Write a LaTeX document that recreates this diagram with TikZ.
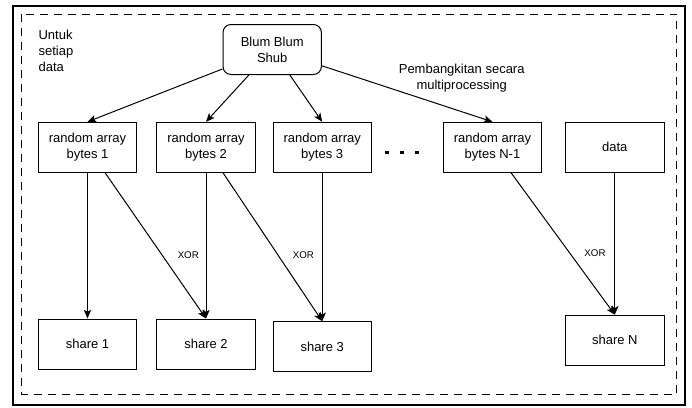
\documentclass[tikz,border=0pt]{standalone}
\usepackage{fontspec}
\setmainfont{Liberation Sans}
\usetikzlibrary{arrows.meta}
\begin{document}
\begin{tikzpicture}[x=0.75pt,y=-0.75pt,
  font=\fontsize{9.75}{11.8}\selectfont,
  box/.style={draw=black,line width=0.75pt,minimum width=73.8pt,minimum height=37.5pt,align=center,inner sep=1pt},
  rbox/.style={box,rounded corners=6pt},
  arr/.style={draw=black,line width=0.75pt,-{Stealth[length=6.5pt,width=5.5pt,inset=1.5pt]}},
  xorlbl/.style={font=\fontsize{7.3}{8}\selectfont,inner sep=0pt},
  lbl/.style={inner sep=0pt}]
\useasboundingbox (0,0) rectangle (692,407);
\draw[line width=1.5pt] (12.5,5.5) rectangle (684.5,405);
\draw[line width=0.75pt,dash pattern=on 6pt off 4.5pt] (21.7,14) rectangle (676.7,394);

\node[rbox] (bbs) at (272.2,49.5) {Blum Blum\\Shub};
\node[box] (b1) at (87.5,147.3) {random array\\bytes 1};
\node[box] (b2) at (206,147.3) {random array\\bytes 2};
\node[box] (b3) at (322.2,147.3) {random array\\bytes 3};
\node[box] (bn) at (492.5,147.3) {random array\\bytes N-1};
\node[box] (data) at (614.8,147.3) {data};
\node[box] (s1) at (87.5,344) {share 1};
\node[box] (s2) at (206,344) {share 2};
\node[box] (s3) at (322.2,346.7) {share 3};
\node[box] (sn) at (614.8,340.2) {share N};

\node[lbl,anchor=west,align=left] (untuk) at (38.3,51) {Untuk\\setiap\\data};
\node[lbl,align=center] (pemb) at (461.7,78.5) {Pembangkitan secara\\multiprocessing};

\foreach \x in {386.7,401.7,416.7}
  \fill (\x-1.8,150.5) rectangle (\x+1.8,154.1);

\draw[arr] (bbs) -- (b1.north);
\draw[arr] (bbs) -- (b2.north);
\draw[arr] (bbs) -- (b3.north);
\draw[arr] (bbs) -- (bn.north);

\draw[arr] (b1) -- (s1);
\draw[arr] (b2) -- (s2);
\draw[arr] (b3) -- (s3);
\draw[arr] (data) -- (sn);

\draw[arr] (b1) -- (s2.north);
\draw[arr] (b2) -- (s3.north);
\draw[arr] (bn) -- (sn.north);

\node[xorlbl] (x1) at (188.3,255) {XOR};
\node[xorlbl] (x2) at (303.3,255) {XOR};
\node[xorlbl] (x3) at (595,253.3) {XOR};
\end{tikzpicture}
\end{document}
